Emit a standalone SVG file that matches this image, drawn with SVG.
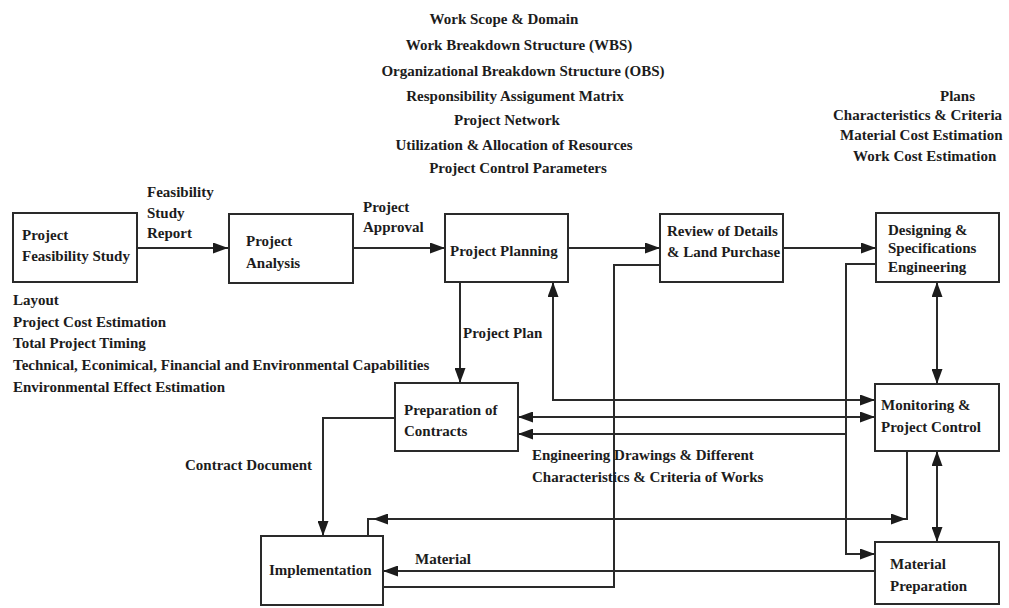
<svg xmlns="http://www.w3.org/2000/svg" width="1009" height="608" viewBox="0 0 1009 608">
  <style>
    .box { fill: #ffffff; stroke: #2a2a2a; stroke-width: 2; }
    .t { font-family: "Liberation Serif", "Times New Roman", serif; font-weight: bold; font-size: 15px; fill: #1c1c1c; }
    .mid { text-anchor: middle; }
    .wire { fill: none; stroke: #2a2a2a; stroke-width: 2; }
  </style>
  <defs>
    <marker id="arrow" viewBox="0 0 15 11" refX="15" refY="5.5" markerWidth="15" markerHeight="11" markerUnits="userSpaceOnUse" orient="auto-start-reverse">
      <path d="M0,0 L15,5.5 L0,11 z" fill="#1c1c1c"/>
    </marker>
  </defs>
  <rect width="1009" height="608" fill="#ffffff"/>

  <!-- planning outputs -->
  <g id="planning-outputs" class="t mid">
    <text x="504" y="24">Work Scope &amp; Domain</text>
    <text x="519" y="50">Work Breakdown Structure (WBS)</text>
    <text x="523" y="76">Organizational Breakdown Structure (OBS)</text>
    <text x="515" y="101">Responsibility Assigument Matrix</text>
    <text x="507" y="125">Project Network</text>
    <text x="514" y="150">Utilization &amp; Allocation of Resources</text>
    <text x="518" y="173">Project Control Parameters</text>
  </g>

  <!-- design outputs -->
  <g id="design-outputs" class="t">
    <text x="940" y="101">Plans</text>
    <text x="833" y="120">Characteristics &amp; Criteria</text>
    <text x="840" y="140">Material Cost Estimation</text>
    <text x="853" y="161">Work Cost Estimation</text>
  </g>

  <!-- feasibility outputs -->
  <g id="feasibility-outputs" class="t">
    <text x="13" y="305">Layout</text>
    <text x="13" y="327">Project Cost Estimation</text>
    <text x="13" y="348">Total Project Timing</text>
    <text x="13" y="370">Technical, Econimical, Financial and Environmental Capabilities</text>
    <text x="13" y="392">Environmental Effect Estimation</text>
  </g>

  <!-- connectors -->
  <g id="connectors" class="wire">
    <path d="M137,248 H228" marker-end="url(#arrow)"/>
    <path d="M353,248 H445" marker-end="url(#arrow)"/>
    <path d="M568,248 H660" marker-end="url(#arrow)"/>
    <path d="M783,248 H876" marker-end="url(#arrow)"/>
    <path d="M460,282 V383" marker-end="url(#arrow)"/>
    <path d="M553,282 V400 H875" marker-start="url(#arrow)" marker-end="url(#arrow)"/>
    <path d="M518,417 H875" marker-start="url(#arrow)" marker-end="url(#arrow)"/>
    <path d="M876,264 H846 V554 H875" marker-end="url(#arrow)"/>
    <path d="M846,434 H518" marker-end="url(#arrow)"/>
    <path d="M395,418 H323 V536" marker-end="url(#arrow)"/>
    <path d="M907,451 V519 H373" marker-end="url(#arrow)"/>
    <path d="M373,519 H368 V536"/>
    <path d="M885,519 H906" marker-end="url(#arrow)"/>
    <path d="M937,282 V384" marker-start="url(#arrow)" marker-end="url(#arrow)"/>
    <path d="M937,451 V542" marker-start="url(#arrow)" marker-end="url(#arrow)"/>
    <path d="M875,571 H383" marker-end="url(#arrow)"/>
    <path d="M660,265 H614 V587 H383"/>
  </g>

  <!-- connector labels -->
  <g id="connector-labels" class="t">
    <text x="147" y="197">Feasibility</text>
    <text x="147" y="218">Study</text>
    <text x="147" y="238">Report</text>
    <text x="363" y="212">Project</text>
    <text x="363" y="232">Approval</text>
    <text x="463" y="338">Project Plan</text>
    <text x="185" y="470">Contract Document</text>
    <text x="532" y="460">Engineering Drawings &amp; Different</text>
    <text x="532" y="482">Characteristics &amp; Criteria of Works</text>
    <text x="415" y="564">Material</text>
  </g>

  <g id="node-feasibility">
    <rect class="box" x="13" y="213" width="124" height="69"/>
    <text class="t" x="22" y="240">Project</text>
    <text class="t" x="22" y="261">Feasibility Study</text>
  </g>
  <g id="node-analysis">
    <rect class="box" x="229" y="214" width="124" height="69"/>
    <text class="t" x="246" y="246">Project</text>
    <text class="t" x="246" y="268">Analysis</text>
  </g>
  <g id="node-planning">
    <rect class="box" x="445" y="214" width="123" height="68"/>
    <text class="t" x="450" y="256">Project Planning</text>
  </g>
  <g id="node-review">
    <rect class="box" x="660" y="214" width="123" height="68"/>
    <text class="t" x="667" y="236">Review of Details</text>
    <text class="t" x="667" y="257">&amp; Land Purchase</text>
  </g>
  <g id="node-designing">
    <rect class="box" x="876" y="213" width="123" height="69"/>
    <text class="t" x="888" y="235">Designing &amp;</text>
    <text class="t" x="888" y="253">Specifications</text>
    <text class="t" x="888" y="272">Engineering</text>
  </g>
  <g id="node-contracts">
    <rect class="box" x="395" y="383" width="123" height="68"/>
    <text class="t" x="404" y="415">Preparation of</text>
    <text class="t" x="404" y="436">Contracts</text>
  </g>
  <g id="node-monitoring">
    <rect class="box" x="875" y="384" width="124" height="67"/>
    <text class="t" x="881" y="410">Monitoring &amp;</text>
    <text class="t" x="881" y="432">Project Control</text>
  </g>
  <g id="node-implementation">
    <rect class="box" x="261" y="536" width="122" height="69"/>
    <text class="t" x="269" y="575">Implementation</text>
  </g>
  <g id="node-material">
    <rect class="box" x="875" y="542" width="124" height="62"/>
    <text class="t" x="890" y="569">Material</text>
    <text class="t" x="890" y="591">Preparation</text>
  </g>
</svg>
